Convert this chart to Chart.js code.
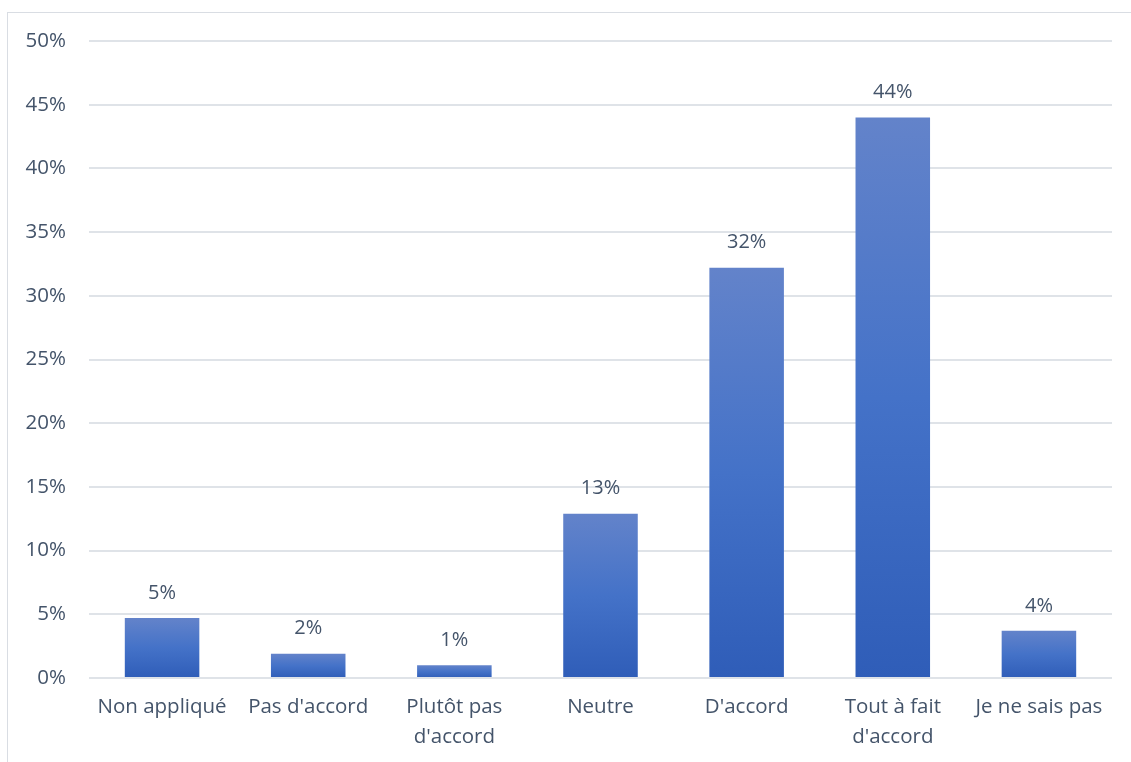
<!DOCTYPE html>
<html>
<head>
<meta charset="utf-8">
<script src="https://cdn.jsdelivr.net/npm/chart.js@4.4.0/dist/chart.umd.min.js"></script>
<style>
  html, body { margin: 0; padding: 0; background: #fff; }
  #wrap { position: relative; width: 1131px; height: 762px; }
  #frame { position: absolute; left: 7px; top: 12px; width: 1130px; height: 760px;
           border-left: 1px solid #d9dde3; border-top: 1px solid #d9dde3; }
  canvas { position: absolute; left: 0; top: 0; }
</style>
</head>
<body>
<div id="wrap">
  <div id="frame"></div>
  <canvas id="c1" width="1131" height="762"></canvas>
</div>
<script>
var categories = ['Non appliqué', "Pas d'accord", ['Plutôt pas', "d'accord"], 'Neutre', "D'accord", ['Tout à fait', "d'accord"], 'Je ne sais pas'];
var values = [4.7, 1.9, 1.0, 12.9, 32.2, 44.0, 3.7];
var yTicks = [0, 5, 10, 15, 20, 25, 30, 35, 40, 45, 50];

var textColor = '#44546a';
var fontFamily = '"Open Sans", sans-serif';

function barGradient(ctx) {
    var chart = ctx.chart;
    if (!chart.chartArea) return '#4472c4';
    var y = chart.scales.y;
    var top = y.getPixelForValue(values[ctx.dataIndex]);
    var base = y.getPixelForValue(0);
    var g = chart.ctx.createLinearGradient(0, top, 0, base);
    g.addColorStop(0, '#6383ca');
    g.addColorStop(0.5, '#4472c8');
    g.addColorStop(1, '#2f5db8');
    return g;
}

var valueLabels = {
    id: 'valueLabels',
    afterDatasetsDraw: function(chart) {
        var c = chart.ctx;
        var meta = chart.getDatasetMeta(0);
        c.save();
        c.fillStyle = textColor;
        c.font = '20px ' + fontFamily;
        c.textAlign = 'center';
        c.textBaseline = 'middle';
        meta.data.forEach(function(bar, i) {
            c.fillText(Math.round(values[i]) + '%', bar.x, bar.y - 25);
        });
        c.restore();
    }
};

var div = document.getElementById('c1');
var chart = new Chart(div.getContext('2d'), {
    type: 'bar',
    data: {
        labels: categories,
        datasets: [{
            data: values,
            backgroundColor: barGradient,
            barPercentage: 0.51,
            categoryPercentage: 1.0
        }]
    },
    options: {
        responsive: false,
        animation: false,
        layout: { padding: { left: 0, right: 19, top: 41, bottom: 0 } },
        plugins: { legend: { display: false }, tooltip: { enabled: false } },
        scales: {
            x: {
                grid: { display: false, drawTicks: false },
                border: { display: false },
                ticks: { color: textColor, font: { size: 20.5, family: fontFamily, lineHeight: 1.42 }, padding: 15, maxRotation: 0, autoSkip: false },
                afterFit: function(s) { s.height = 84; }
            },
            y: {
                min: 0, max: 50,
                afterBuildTicks: function(s) { s.ticks = yTicks.map(function(v) { return { value: v }; }); },
                grid: { color: '#dfe3e8', lineWidth: 2, drawTicks: false },
                border: { display: false },
                ticks: { color: textColor, font: { size: 20.5, family: fontFamily }, padding: 23,
                         callback: function(v) { return v + '%'; } },
                afterFit: function(s) { s.width = 89; }
            }
        }
    },
    plugins: [valueLabels]
});
</script>
</body>
</html>
